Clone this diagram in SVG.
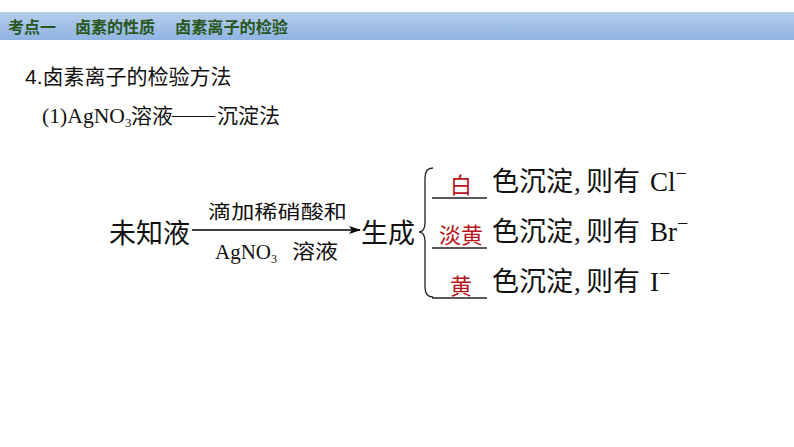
<svg xmlns="http://www.w3.org/2000/svg" width="794" height="447" viewBox="0 0 794 447">
<defs>
<linearGradient id="hdr" x1="0" y1="0" x2="0" y2="1">
<stop offset="0" stop-color="#b6cdea"/>
<stop offset="1" stop-color="#8fb4e2"/>
</linearGradient>
<marker id="arr" markerWidth="12" markerHeight="8" refX="11" refY="4" orient="auto" markerUnits="userSpaceOnUse">
<path d="M0,0 L12,4 L0,8 L3,4 Z" fill="#000"/>
</marker>
<style>
.hd{font-family:"Noto Sans CJK SC",sans-serif;font-weight:bold;font-size:16px;fill:#28561c}
.sans{font-family:"Liberation Sans","Noto Sans CJK SC",sans-serif;fill:#111}
.serif{font-family:"Liberation Serif","Noto Sans CJK SC",serif;fill:#111}
.cjk{font-family:"Noto Sans CJK SC",sans-serif;fill:#111}
.red{font-family:"Noto Sans CJK SC",sans-serif;font-size:22px;fill:#b8121b}
.row{font-size:27px}
.sup{font-size:20px}
.ul{stroke:#222;stroke-width:1.3;fill:none}
</style>
</defs>
<rect width="794" height="447" fill="#ffffff"/>
<rect x="0" y="12" width="794" height="28" fill="url(#hdr)"/>
<text class="hd" x="8" y="33">考点一</text>
<text class="hd" x="75" y="33">卤素的性质</text>
<text class="hd" x="175" y="33" textLength="113" lengthAdjust="spacingAndGlyphs">卤素离子的检验</text>

<text class="sans" x="25" y="84" font-size="21">4.卤素离子的检验方法</text>
<text class="serif" x="42" y="123" font-size="22" textLength="83" lengthAdjust="spacingAndGlyphs">(1)AgNO</text>
<text class="serif" x="125" y="127" font-size="13">3</text>
<text class="cjk" x="131" y="123" font-size="21">溶液</text>
<text class="serif" x="172" y="122" font-size="21" textLength="43" lengthAdjust="spacingAndGlyphs">——</text>
<text class="cjk" x="217" y="123" font-size="21">沉淀法</text>

<g id="unknown"><text class="serif" x="109" y="243" font-size="27">未知液</text></g>
<g id="connectors">
<line x1="192" y1="230" x2="360" y2="230" stroke="#000" stroke-width="1.3" marker-end="url(#arr)"/>
<path d="M433,168 Q425,168 425,178 L425,222 Q425,232 419,232 Q425,232 425,242 L425,287 Q425,297 433,297" stroke="#222" stroke-width="1.3" fill="none"/>
</g>
<g id="arrow-label">
<text class="serif" x="208" y="219" font-size="19" textLength="139" lengthAdjust="spacingAndGlyphs">滴加稀硝酸和</text>
<text class="serif" x="215" y="259" font-size="21">AgNO<tspan font-size="12" dy="4">3</tspan></text>
<text class="cjk" x="292" y="259" font-size="20" textLength="46" lengthAdjust="spacingAndGlyphs">溶液</text>
</g>
<g id="produce"><text class="serif" x="361" y="243" font-size="27">生成</text></g>
<g id="row1">
<line class="ul" x1="432" y1="198" x2="487" y2="198"/>
<text class="red" x="461" y="193" text-anchor="middle">白</text>
<text class="cjk row" x="492" y="191">色沉淀</text>
<text class="serif row" x="574" y="191">,</text>
<text class="cjk row" x="586" y="191">则有</text>
<text class="serif row" x="650" y="191">Cl<tspan class="sup" dy="-11">−</tspan></text>
</g>
<g id="row2">
<line class="ul" x1="432" y1="248" x2="487" y2="248"/>
<text class="red" x="461" y="243" text-anchor="middle">淡黄</text>
<text class="cjk row" x="492" y="241">色沉淀</text>
<text class="serif row" x="574" y="241">,</text>
<text class="cjk row" x="586" y="241">则有</text>
<text class="serif row" x="650" y="241">Br<tspan class="sup" dy="-11">−</tspan></text>
</g>
<g id="row3">
<line class="ul" x1="432" y1="298" x2="487" y2="298"/>
<text class="red" x="461" y="294" text-anchor="middle">黄</text>
<text class="cjk row" x="492" y="291">色沉淀</text>
<text class="serif row" x="574" y="291">,</text>
<text class="cjk row" x="586" y="291">则有</text>
<text class="serif row" x="650" y="291">I<tspan class="sup" dy="-11">−</tspan></text>
</g>
</svg>
